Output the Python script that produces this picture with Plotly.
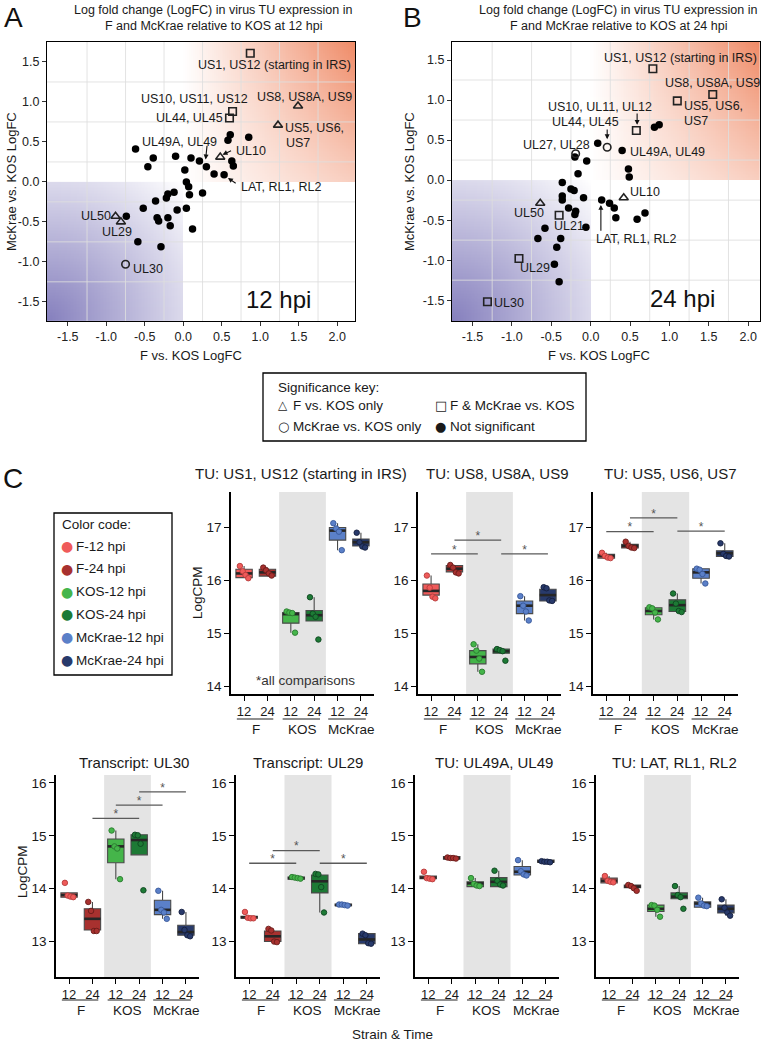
import numpy as np
import plotly.graph_objects as go

W, H = 766, 1042
FONT = "Liberation Sans, Arial, Helvetica, sans-serif"


def px(x):
    return x / W


def py(y):
    return 1 - y / H


# ---------------- Panel A (12 hpi): LogFC values ----------------
A_ns_x = [-0.62, 0.61, 0.58, 0.85, -0.39, -0.10, 0.10, 0.21, 0.30, 0.63, 0.65, 0.40, 0.53, -0.46,
          0.02, 0.04, 0.07, 0.08, 0.25, -0.12, -0.20, -0.22, -0.36, -0.52, -0.08, 0.04, -0.74,
          -0.34, -0.32, -0.20, -0.17, 0.12, -0.59, -0.29]
A_ns_y = [0.41, 0.59, 0.52, 0.56, 0.30, 0.32, 0.30, 0.26, 0.19, 0.26, 0.20, 0.10, 0.09, 0.19,
          0.15, 0.00, -0.06, -0.16, -0.14, -0.13, -0.15, -0.20, -0.24, -0.33, -0.35, -0.33, -0.43,
          -0.45, -0.49, -0.45, -0.55, -0.59, -0.75, -0.81]
A_f_x = [1.49, 1.23, 0.48, -0.88, -0.81]
A_f_y = [0.95, 0.71, 0.31, -0.43, -0.50]
A_both_x = [0.87, 0.64, 0.60]
A_both_y = [1.61, 0.88, 0.80]
A_mck_x = [-0.75]
A_mck_y = [-1.03]

A_label_text = ["US1, US12 (starting in IRS)", "US10, US11, US12", "UL44, UL45", "US8, US8A, US9",
                "US5, US6,", "US7", "UL49A, UL49", "UL10", "LAT, RL1, RL2", "UL50", "UL29", "UL30"]
A_label_pos = [(1.19, 1.46, "center"), (0.15, 1.04, "center"), (0.54, 0.80, "right"),
               (1.58, 1.06, "center"), (1.29, 0.675, "left"), (1.31, 0.49, "left"),
               (-0.05, 0.50, "center"), (0.66, 0.39, "left"), (0.72, -0.06, "left"),
               (-0.915, -0.425, "right"), (-0.86, -0.625, "center"), (-0.68, -1.09, "left")]
A_arrows = [(0.29, 0.28, 0.31, 0.47), (0.51, 0.34, 0.64, 0.40), (0.58, 0.05, 0.70, -0.03)]

# ---------------- Panel B (24 hpi) ----------------
B_ns_x = [0.81, 0.87, 0.09, 0.40, -0.20, -0.05, -0.16, 0.48, 0.49, -0.36, -0.25, -0.21, -0.36,
          -0.36, -0.09, 0.14, 0.24, 0.30, 0.32, 0.59, 0.69, -0.28, -0.19, -0.20, -0.06, -0.58,
          -0.67, -0.38, -0.43, -0.46, -0.40]
B_ns_y = [0.66, 0.69, 0.46, 0.37, 0.29, 0.24, 0.08, 0.14, 0.04, -0.03, -0.11, -0.13, -0.20,
          -0.25, -0.22, -0.25, -0.29, -0.35, -0.47, -0.49, -0.41, -0.35, -0.39, -0.43, -0.59,
          -0.60, -0.73, -0.73, -0.84, -1.05, -1.27]
B_f_x = [0.42, -0.64]
B_f_y = [-0.22, -0.29]
B_both_x = [0.79, 1.55, 1.10, 0.58, -0.40, -0.91, -1.31]
B_both_y = [1.39, 1.07, 0.99, 0.62, -0.44, -0.98, -1.52]
B_mck_x = [0.21, -0.19]
B_mck_y = [0.41, 0.33]

B_label_text = ["US1, US12 (starting in IRS)", "US8, US8A, US9", "US5, US6,", "US7",
                "US10, UL11, UL12", "UL44, UL45", "UL27, UL28", "UL49A, UL49", "UL10", "UL50",
                "UL21", "LAT, RL1, RL2", "UL29", "UL30"]
B_label_pos = [(1.14, 1.525, "center"), (1.55, 1.21, "center"), (1.16, 0.93, "left"),
               (1.16, 0.74, "left"), (0.12, 0.91, "center"), (-0.07, 0.72, "center"),
               (0.02, 0.44, "right"), (0.48, 0.35, "left"), (0.48, -0.15, "left"),
               (-0.78, -0.41, "center"), (-0.49, -0.575, "left"), (0.58, -0.73, "center"),
               (-0.92, -1.10, "left"), (-1.25, -1.54, "left")]
B_arrows = [(0.59, 0.69, 0.59, 0.85), (0.21, 0.51, 0.21, 0.65), (0.13, -0.31, 0.13, -0.65)]

SCAT_TICKS = [-1.5, -1.0, -0.5, 0.0, 0.5, 1.0, 1.5, 2.0]
SCAT_YTICKS = [-1.5, -1.0, -0.5, 0.0, 0.5, 1.0, 1.5]
GRID_X = [-1.25, -0.75, -0.25, 0.25, 0.75, 1.25, 1.75]
GRID_Y = [-1.25, -0.75, -0.25, 0.25, 0.75, 1.25]

# ---------------- Panel C: LogCPM per group ----------------
GROUPS = ["F-12 hpi", "F-24 hpi", "KOS-12 hpi", "KOS-24 hpi", "McKrae-12 hpi", "McKrae-24 hpi"]
COLORS = ["#EF5B5A", "#A8312F", "#45B54A", "#1D7A35", "#5B80C8", "#283A6B"]
DARK = ["#B53B3B", "#6A1C1A", "#2A7A30", "#0F4620", "#38589A", "#141E3E"]
POS = [1, 2, 3, 4, 5, 6]
TICK_TEXT = ["12", "24", "12", "24", "12", "24"]
STRAINS = ["F", "KOS", "McKrae"]

# replicate values (4 per group)
US1_pts = [[16.27, 16.17, 16.10, 16.04], [16.24, 16.19, 16.13, 16.09], [15.41, 15.39, 15.38, 15.01],
           [15.68, 15.37, 15.31, 14.88], [17.08, 16.98, 16.92, 16.57], [16.90, 16.72, 16.64, 16.62]]
US8_pts = [[16.09, 15.86, 15.69, 15.66], [16.29, 16.24, 16.15, 16.13], [14.79, 14.67, 14.52, 14.27],
           [14.70, 14.68, 14.66, 14.48], [15.70, 15.52, 15.41, 15.24], [15.87, 15.85, 15.62, 15.61]]
US5_pts = [[16.52, 16.46, 16.43, 16.42], [16.73, 16.65, 16.62, 16.61], [15.49, 15.47, 15.39, 15.26],
           [15.75, 15.56, 15.42, 15.40], [16.22, 16.20, 16.12, 15.94], [16.70, 16.50, 16.46, 16.45]]
UL30_pts = [[14.11, 13.87, 13.85, 13.84], [13.75, 13.58, 13.20, 13.20], [15.10, 14.80, 14.76, 14.18],
            [15.02, 15.01, 14.85, 13.97], [13.96, 13.60, 13.55, 13.43], [13.56, 13.22, 13.12, 13.10]]
UL29_pts = [[13.56, 13.45, 13.44, 13.44], [13.24, 13.21, 13.00, 12.99], [14.22, 14.21, 14.20, 14.19],
            [14.28, 14.27, 14.03, 13.55], [13.70, 13.70, 13.69, 13.68], [13.15, 13.12, 12.97, 12.96]]
UL49_pts = [[14.32, 14.20, 14.19, 14.18], [14.59, 14.58, 14.58, 14.57], [14.20, 14.09, 14.06, 14.05],
            [14.34, 14.15, 14.08, 14.06], [14.54, 14.33, 14.27, 14.25], [14.52, 14.51, 14.51, 14.50]]
LAT_pts = [[14.24, 14.15, 14.13, 14.12], [14.07, 14.05, 14.01, 13.96], [13.69, 13.68, 13.60, 13.47],
           [14.05, 13.88, 13.84, 13.62], [13.83, 13.72, 13.68, 13.67], [13.80, 13.64, 13.55, 13.49]]

# box statistics [lower whisker, q1, median, q3, upper whisker]
US1_box = [[16.04, 16.05, 16.13, 16.21, 16.27], [16.08, 16.08, 16.15, 16.21, 16.24],
           [15.01, 15.19, 15.36, 15.39, 15.41], [15.23, 15.23, 15.34, 15.43, 15.68],
           [16.57, 16.76, 16.94, 17.00, 17.08], [16.62, 16.65, 16.72, 16.78, 16.90]]
US8_box = [[15.66, 15.72, 15.80, 15.93, 16.09], [16.13, 16.16, 16.22, 16.28, 16.29],
           [14.27, 14.42, 14.55, 14.67, 14.79], [14.62, 14.62, 14.66, 14.70, 14.70],
           [15.24, 15.37, 15.52, 15.61, 15.70], [15.61, 15.61, 15.72, 15.83, 15.87]]
US5_box = [[16.42, 16.42, 16.46, 16.49, 16.52], [16.61, 16.61, 16.65, 16.68, 16.73],
           [15.26, 15.35, 15.42, 15.48, 15.49], [15.40, 15.41, 15.53, 15.63, 15.75],
           [15.94, 16.04, 16.15, 16.22, 16.22], [16.45, 16.45, 16.51, 16.56, 16.70]]
UL30_box = [[13.84, 13.84, 13.88, 13.92, 13.92], [13.20, 13.22, 13.43, 13.62, 13.75],
            [14.18, 14.49, 14.80, 14.94, 15.10], [14.64, 14.64, 14.92, 15.02, 15.02],
            [13.43, 13.51, 13.60, 13.78, 13.96], [13.10, 13.12, 13.18, 13.31, 13.56]]
UL29_box = [[13.44, 13.44, 13.46, 13.48, 13.48], [12.99, 13.00, 13.10, 13.20, 13.24],
            [14.18, 14.18, 14.20, 14.22, 14.22], [13.55, 13.92, 14.14, 14.26, 14.28],
            [13.68, 13.68, 13.69, 13.71, 13.71], [12.96, 12.96, 13.04, 13.15, 13.15]]
UL49_box = [[14.18, 14.19, 14.21, 14.24, 14.24], [14.56, 14.56, 14.58, 14.61, 14.61],
            [14.04, 14.04, 14.10, 14.13, 14.20], [14.04, 14.04, 14.13, 14.21, 14.34],
            [14.25, 14.26, 14.32, 14.42, 14.54], [14.50, 14.50, 14.51, 14.54, 14.54]]
LAT_box = [[14.11, 14.11, 14.15, 14.20, 14.24], [13.96, 14.02, 14.04, 14.07, 14.07],
           [13.47, 13.57, 13.62, 13.69, 13.69], [13.81, 13.81, 13.85, 13.92, 14.05],
           [13.65, 13.65, 13.72, 13.75, 13.83], [13.49, 13.54, 13.62, 13.69, 13.80]]

# significance bars (from group, to group, height)
US8_sig = [(1, 3, 16.50), (2, 4, 16.76), (4, 6, 16.50)]
US5_sig = [(1, 3, 16.92), (2, 4, 17.18), (4, 6, 16.93)]
UL30_sig = [(2, 4, 15.33), (3, 5, 15.58), (4, 6, 15.83)]
UL29_sig = [(1, 3, 14.48), (2, 4, 14.72), (4, 6, 14.48)]

JIT = [-0.18, -0.06, 0.06, 0.18]
BOXW = 0.7

fig = go.Figure()

# ---------- scatter panels ----------
XR_A, YR_A = [-1.77, 2.23], [-1.74, 1.75]
XR_B, YR_B = [-1.76, 2.15], [-1.76, 1.725]


def grad_heat(x0, x1, y0, y1, kind, xa, ya, n=90):
    xe = np.linspace(x0, x1, n + 1)
    ye = np.linspace(y0, y1, n + 1)
    xc = (xe[:-1] + xe[1:]) / 2
    yc = (ye[:-1] + ye[1:]) / 2
    X, Y = np.meshgrid(xc, yc)
    if kind == "orange":
        t = (X / x1) * (0.42 + 0.58 * Y / y1)
        cs = [[0, "#ffffff"], [1, "#EF8A66"]]
    else:
        u = (X - x0) / (0 - x0)
        v = (Y - y0) / (0 - y0)
        t = 1 - np.sqrt(u ** 2 + v ** 2) / np.sqrt(2)
        cs = [[0, "#ffffff"], [1, "#857FBD"]]
    return go.Heatmap(x=xe, y=ye, z=np.clip(t, 0, 1), zmin=0, zmax=1, colorscale=cs,
                      showscale=False, hoverinfo="skip", xaxis=xa, yaxis=ya)


def add_scatter_panel(xa, ya, xr, yr, ns, fo, both, mck, labels, lpos, arrows, hpi_text, hpi_pos):
    fig.add_trace(grad_heat(0, xr[1], 0, yr[1], "orange", xa, ya))
    fig.add_trace(grad_heat(xr[0], 0, yr[0], 0, "blue", xa, ya))
    gx, gy = [], []
    for g in GRID_X:
        gx += [g, g, None]
        gy += [yr[0], yr[1], None]
    for g in GRID_Y:
        gx += [xr[0], xr[1], None]
        gy += [g, g, None]
    fig.add_trace(go.Scatter(x=gx, y=gy, mode="lines", line=dict(color="rgba(222,222,222,0.85)", width=1),
                             hoverinfo="skip", xaxis=xa, yaxis=ya))
    fig.add_trace(go.Scatter(x=ns[0], y=ns[1], mode="markers", xaxis=xa, yaxis=ya,
                             marker=dict(symbol="circle", size=7.5, color="black")))
    fig.add_trace(go.Scatter(x=fo[0], y=fo[1], mode="markers", xaxis=xa, yaxis=ya,
                             marker=dict(symbol="triangle-up-open", size=8, color="#222",
                                         line=dict(width=1.6))))
    fig.add_trace(go.Scatter(x=both[0], y=both[1], mode="markers", xaxis=xa, yaxis=ya,
                             marker=dict(symbol="square-open", size=7.5, color="#222",
                                         line=dict(width=1.6))))
    fig.add_trace(go.Scatter(x=mck[0], y=mck[1], mode="markers", xaxis=xa, yaxis=ya,
                             marker=dict(symbol="circle-open", size=7.5, color="#222",
                                         line=dict(width=1.6))))
    anns = []
    for txt, (x, y, anc) in zip(labels, lpos):
        anns.append(dict(x=x, y=y, xref=xa, yref=ya, text=txt, showarrow=False, xanchor=anc,
                         yanchor="middle", font=dict(size=12.5, color="#1a1a1a")))
    for (tx, ty, sx, sy) in arrows:
        anns.append(dict(x=tx, y=ty, ax=sx, ay=sy, xref=xa, yref=ya, axref=xa, ayref=ya, text="",
                         showarrow=True, arrowhead=2, arrowsize=0.9, arrowwidth=1.1,
                         arrowcolor="#111", standoff=0, startstandoff=0))
    anns.append(dict(x=hpi_pos[0], y=hpi_pos[1], xref=xa, yref=ya, text=hpi_text, showarrow=False,
                     font=dict(size=24, color="#111")))
    return anns


annotations = []
annotations += add_scatter_panel("x", "y", XR_A, YR_A, (A_ns_x, A_ns_y), (A_f_x, A_f_y),
                                 (A_both_x, A_both_y), (A_mck_x, A_mck_y), A_label_text,
                                 A_label_pos, A_arrows, "12 hpi", (1.23, -1.475))
annotations += add_scatter_panel("x2", "y2", XR_B, YR_B, (B_ns_x, B_ns_y), (B_f_x, B_f_y),
                                 (B_both_x, B_both_y), (B_mck_x, B_mck_y), B_label_text,
                                 B_label_pos, B_arrows, "24 hpi", (1.17, -1.48))

# ---------- box panels ----------
shapes = []


def add_box_panel(idx, pts, box, sig, title, title_x, title_y, row):
    xa, ya = f"x{idx}", f"y{idx}"
    shapes.append(dict(type="rect", xref=xa, yref=f"{ya} domain", x0=2.5, x1=4.5, y0=0, y1=1,
                       fillcolor="#E4E4E4", line=dict(width=0), layer="below"))
    for i in range(6):
        lo, q1, med, q3, hi = box[i]
        fig.add_trace(go.Box(x=[POS[i]], q1=[q1], median=[med], q3=[q3], lowerfence=[lo],
                             upperfence=[hi], width=BOXW, whiskerwidth=0, fillcolor=COLORS[i],
                             line=dict(color="#4a4a4a", width=1.1), boxpoints=False,
                             hoverinfo="skip", xaxis=xa, yaxis=ya))
    mx, my = [], []
    for i in range(6):
        med = box[i][2]
        mx += [POS[i] - BOXW / 2, POS[i] + BOXW / 2, None]
        my += [med, med, None]
    fig.add_trace(go.Scatter(x=mx, y=my, mode="lines", line=dict(color="#262626", width=2.6),
                             hoverinfo="skip", xaxis=xa, yaxis=ya))
    for i in range(6):
        fig.add_trace(go.Scatter(x=[POS[i] + j for j in JIT], y=pts[i], mode="markers",
                                 marker=dict(size=5.5, color=COLORS[i],
                                             line=dict(color=DARK[i], width=0.9)),
                                 hoverinfo="skip", xaxis=xa, yaxis=ya))
    if sig:
        sx, sy, stx, sty = [], [], [], []
        for (a, b, h) in sig:
            sx += [a, b, None]
            sy += [h, h, None]
            stx.append((a + b) / 2)
            sty.append(h + 0.06)
        fig.add_trace(go.Scatter(x=sx, y=sy, mode="lines", line=dict(color="#5a5a5a", width=1.4),
                                 hoverinfo="skip", xaxis=xa, yaxis=ya))
        fig.add_trace(go.Scatter(x=stx, y=sty, mode="text", text=["*"] * len(stx),
                                 textfont=dict(size=12, color="#555"), textposition="middle center",
                                 hoverinfo="skip", xaxis=xa, yaxis=ya))
    annotations.append(dict(x=px(title_x), y=py(title_y), xref="paper", yref="paper", text=title,
                            showarrow=False, font=dict(size=15, color="#1a1a1a"),
                            xanchor="center", yanchor="middle"))
    # strain group labels under the axis
    uy, ly = (719, 729) if row == 0 else (1000, 1010)
    for (a, b), s, cx in zip([(0.69, 2.25), (2.65, 4.25), (4.60, 6.21)], STRAINS, [1.5, 3.48, 5.6]):
        shapes.append(dict(type="line", xref=xa, yref="paper", x0=a, x1=b, y0=py(uy), y1=py(uy),
                           line=dict(color="#222", width=1.1)))
        annotations.append(dict(x=cx, y=py(ly), xref=xa, yref="paper", text=s, showarrow=False,
                                xanchor="center", yanchor="middle",
                                font=dict(size=13.5, color="#1a1a1a")))


add_box_panel(3, US1_pts, US1_box, None, "TU: US1, US12 (starting in IRS)", 301, 473, 0)
add_box_panel(4, US8_pts, US8_box, US8_sig, "TU: US8, US8A, US9", 497, 473, 0)
add_box_panel(5, US5_pts, US5_box, US5_sig, "TU: US5, US6, US7", 670, 473, 0)
add_box_panel(6, UL30_pts, UL30_box, UL30_sig, "Transcript: UL30", 134, 762, 1)
add_box_panel(7, UL29_pts, UL29_box, UL29_sig, "Transcript: UL29", 308, 762, 1)
add_box_panel(8, UL49_pts, UL49_box, None, "TU: UL49A, UL49", 494, 762, 1)
add_box_panel(9, LAT_pts, LAT_box, None, "TU: LAT, RL1, RL2", 674, 762, 1)

annotations.append(dict(x=3.62, y=14.1, xref="x3", yref="y3", text="*all comparisons",
                        showarrow=False, font=dict(size=13.5, color="#333")))

# ---------- axes ----------
layout = dict(width=W, height=H, margin=dict(l=0, r=0, t=0, b=0, autoexpand=False),
              paper_bgcolor="white", plot_bgcolor="white", showlegend=False,
              font=dict(family=FONT, size=12.5, color="#222"))


def scat_axes(xd, yd, xr, yr, n):
    sfx = "" if n == 1 else str(n)
    layout["xaxis" + sfx] = dict(domain=xd, range=xr, anchor="y" + sfx, tickmode="array",
                                 tickvals=SCAT_TICKS, ticktext=[f"{v:.1f}" for v in SCAT_TICKS],
                                 ticks="outside", ticklen=4, tickcolor="#333", showline=True,
                                 mirror=True, linecolor="black", linewidth=1.3, showgrid=False,
                                 zeroline=False, automargin=False,
                                 tickfont=dict(size=12.5, color="#222"))
    layout["yaxis" + sfx] = dict(domain=yd, range=yr, anchor="x" + sfx, tickmode="array",
                                 tickvals=SCAT_YTICKS, ticktext=[f"{v:.1f}" for v in SCAT_YTICKS],
                                 ticks="outside", ticklen=4, tickcolor="#333", showline=True,
                                 mirror=True, linecolor="black", linewidth=1.3, showgrid=False,
                                 zeroline=False, automargin=False,
                                 tickfont=dict(size=12.5, color="#222"))


scat_axes([px(47), px(355)], [py(321), py(42)], XR_A, YR_A, 1)
scat_axes([px(452), px(760)], [py(321), py(42)], XR_B, YR_B, 2)

BOX_X = {3: (231, 374), 4: (418, 561), 5: (593, 738), 6: (56, 199), 7: (236, 380), 8: (415, 559),
         9: (596, 739)}
for idx, (l, r) in BOX_X.items():
    top = idx <= 5
    yd = [py(694), py(492)] if top else [py(977), py(775)]
    yr = [13.85, 17.67] if top else [12.33, 16.15]
    yt = [14, 15, 16, 17] if top else [13, 14, 15, 16]
    layout[f"xaxis{idx}"] = dict(domain=[px(l), px(r)], range=[0.44, 6.56], anchor=f"y{idx}",
                                 tickmode="array", tickvals=POS, ticktext=TICK_TEXT,
                                 ticks="outside", ticklen=5, tickwidth=1.2, tickcolor="black",
                                 showline=True, linecolor="black", linewidth=1.5, showgrid=False,
                                 zeroline=False, automargin=False,
                                 tickfont=dict(size=13, color="#1a1a1a"))
    layout[f"yaxis{idx}"] = dict(domain=yd, range=yr, anchor=f"x{idx}", tickmode="array",
                                 tickvals=yt, ticktext=[str(v) for v in yt], ticks="outside",
                                 ticklen=5, tickwidth=1.2, tickcolor="black", showline=True,
                                 linecolor="black", linewidth=1.5, showgrid=False, zeroline=False,
                                 automargin=False, tickfont=dict(size=13.5, color="#1a1a1a"))


# ---------- titles and labels ----------
def ann(x, y, text, size=12.5, anchor="center", angle=0, color="#1a1a1a", family=None,
        yanchor="middle"):
    f = dict(size=size, color=color)
    if family:
        f["family"] = family
    annotations.append(dict(x=px(x), y=py(y), xref="paper", yref="paper", text=text,
                            showarrow=False, xanchor=anchor, yanchor=yanchor, textangle=angle,
                            font=f))


ann(13, 0, "A", 28, color="#111", yanchor="top")
ann(412, 0, "B", 28, color="#111", yanchor="top")
ann(13, 478, "C", 28, color="#111")
ann(213, 10, "Log fold change (LogFC) in virus TU expression in", 12.5)
ann(213, 26, "F and McKrae relative to KOS at 12 hpi", 12.5)
ann(618, 10, "Log fold change (LogFC) in virus TU expression in", 12.5)
ann(618, 26, "F and McKrae relative to KOS at 24 hpi", 12.5)
ann(191, 356, "F vs. KOS LogFC", 13)
ann(599, 356, "F vs. KOS LogFC", 13)
ann(12, 182, "McKrae vs. KOS LogFC", 13, angle=-90)
ann(410, 182, "McKrae vs. KOS LogFC", 13, angle=-90)
ann(197, 593, "LogCPM", 13.5, angle=-90)
ann(22, 872, "LogCPM", 13.5, angle=-90)
ann(393, 1034, "Strain & Time", 13.5)

# significance key
shapes.append(dict(type="rect", xref="paper", yref="paper", x0=px(263), x1=px(586), y0=py(441),
                   y1=py(373), line=dict(color="black", width=1.3), fillcolor="white"))
ann(276, 387, "Significance key:", 13.5, "left")
ann(276, 405, "△", 12, "left", family="DejaVu Sans")
ann(291, 405, "F vs. KOS only", 13.5, "left")
ann(433, 405, "□", 13, "left", family="DejaVu Sans")
ann(448, 405, "F & McKrae vs. KOS", 13.5, "left")
ann(276, 427, "○", 13, "left", family="DejaVu Sans")
ann(291, 427, "McKrae vs. KOS only", 13.5, "left")
ann(433, 427, "●", 13, "left", family="DejaVu Sans")
ann(448, 427, "Not significant", 13.5, "left")

# color code key
shapes.append(dict(type="rect", xref="paper", yref="paper", x0=px(54), x1=px(172), y0=py(675),
                   y1=py(513), line=dict(color="black", width=1.3), fillcolor="white"))
ann(60, 524, "Color code:", 13.5, "left")
for i, (g, c) in enumerate(zip(GROUPS, COLORS)):
    yy = 546 + i * 22.8
    ann(59, yy, "●", 14, "left", color=c, family="DejaVu Sans")
    ann(74, yy, g, 13.5, "left")

layout["annotations"] = annotations
layout["shapes"] = shapes
fig.update_layout(**layout)
fig.update_traces(showlegend=False)
fig.write_html("out.html", config={"displayModeBar": False},
               post_script="document.body.style.margin='0px';document.body.style.overflow='hidden';")
